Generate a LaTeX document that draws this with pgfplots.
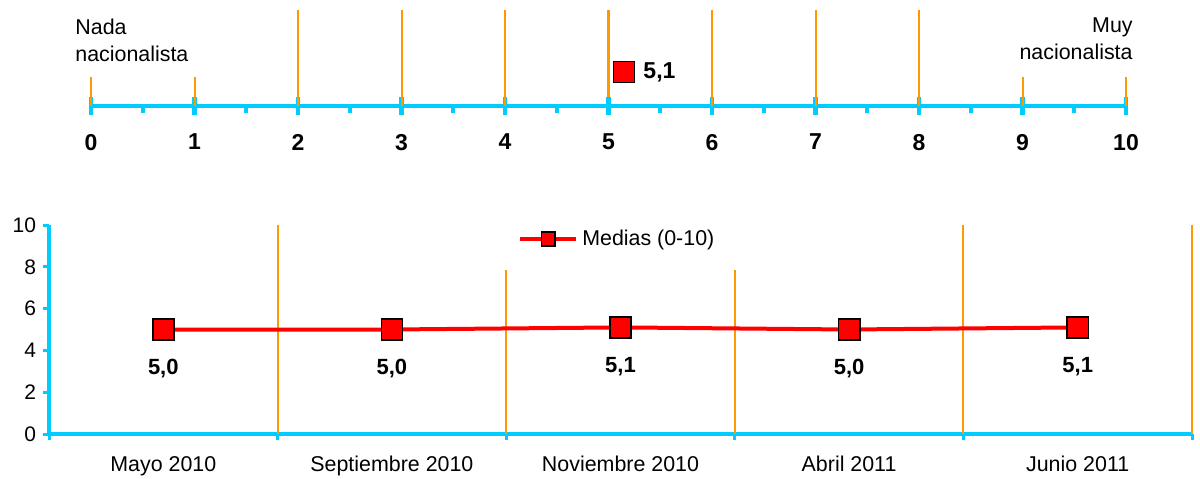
\documentclass[border=0pt]{standalone}
\usepackage{pgfplots}
\pgfplotsset{compat=1.18}
\usepackage{fontspec}
\setmainfont{Liberation Sans}
\definecolor{axcyan}{RGB}{0,204,255}
\definecolor{vorange}{RGB}{255,153,0}
\begin{document}
\begin{tikzpicture}
\path[use as bounding box] (0,0) rectangle (600pt,239pt);
% escala superior 0-10
\begin{axis}[
  at={(45.5pt,186pt)}, anchor=south west,
  scale only axis, width=517.5pt, height=48pt,
  xmin=0, xmax=10, ymin=0, ymax=1,
  axis x line=bottom, axis y line=none,
  axis line style={axcyan, line width=2pt, -},
  xtick={0,...,10},
  xtick align=center,
  major tick length=9pt,
  xtick style={axcyan, line width=2.2pt},
  extra x ticks={0.5,1.5,...,9.5},
  extra x tick labels={},
  extra x tick style={tick align=outside, major tick length=3.5pt, tick style={line width=1.6pt}},
  xticklabel style={font=\fontsize{11.5}{13}\selectfont\bfseries, yshift=-6pt},
  /pgf/number format/assume math mode=true,
  clip=false,
]
\addplot[vorange, line width=1pt, forget plot] coordinates {(0,0) (0,0.3)};
\addplot[vorange, line width=1pt, forget plot] coordinates {(1,0) (1,0.3)};
\addplot[vorange, line width=1pt, forget plot] coordinates {(2,0) (2,1)};
\addplot[vorange, line width=1pt, forget plot] coordinates {(3,0) (3,1)};
\addplot[vorange, line width=1pt, forget plot] coordinates {(4,0) (4,1)};
\addplot[vorange, line width=1.6pt, forget plot] coordinates {(5,0.09) (5,1)};
\addplot[vorange, line width=1pt, forget plot] coordinates {(6,0) (6,1)};
\addplot[vorange, line width=1pt, forget plot] coordinates {(7,0) (7,1)};
\addplot[vorange, line width=1pt, forget plot] coordinates {(8,0) (8,1)};
\addplot[vorange, line width=1pt, forget plot] coordinates {(9,0) (9,0.3)};
\addplot[vorange, line width=1pt, forget plot] coordinates {(10,0) (10,0.3)};
% media
\addplot[only marks, mark=square*, mark size=5.3pt,
  mark options={fill=red, draw=black, line width=0.8pt},
  point meta=explicit symbolic,
  nodes near coords,
  every node near coord/.append style={anchor=west, xshift=6pt,
    font=\fontsize{11.5}{13}\selectfont\bfseries, text=black}]
  coordinates {(5.15,0.354) [5,1]};
\end{axis}
\node[anchor=north west, align=left, inner sep=0pt,
  font=\fontsize{10.7}{13.5}\selectfont] at (37.5pt,229.5pt) {Nada\\nacionalista};
\node[anchor=north east, align=right, inner sep=0pt,
  font=\fontsize{10.7}{13.5}\selectfont] at (566.5pt,230.5pt) {Muy\\nacionalista};
% evolucion
\begin{axis}[
  at={(24.5pt,22pt)}, anchor=south west,
  scale only axis, width=571.5pt, height=104.5pt,
  xmin=0, xmax=5, ymin=0, ymax=10,
  axis x line=bottom, axis y line=left,
  axis line style={axcyan, line width=2pt, -},
  tick align=outside, major tick length=3pt,
  tick style={axcyan, line width=1.5pt},
  ytick={0,2,...,10},
  yticklabel style={font=\fontsize{10.5}{12}\selectfont},
  xtick={0,...,5}, xticklabels={},
  extra x ticks={0.5,1.5,2.5,3.5,4.5},
  extra x tick labels={Mayo 2010, Septiembre 2010, Noviembre 2010, Abril 2011, Junio 2011},
  extra x tick style={major tick length=0pt,
    tick label style={font=\fontsize{10.7}{12}\selectfont, yshift=-7.5pt}},
  /pgf/number format/assume math mode=true,
  legend style={at={(axis description cs:0.405,0.933)}, anchor=west,
    draw=none, fill=none, font=\fontsize{10.7}{12}\selectfont},
  legend image code/.code={\draw[mark repeat=2, mark phase=2, #1, mark size=3.4pt]
    plot coordinates {(0pt,0pt) (14pt,0pt) (28pt,0pt)};},
  clip=false,
]
\addplot[vorange, line width=1pt, forget plot] coordinates {(1,0) (1,10)};
\addplot[vorange, line width=1pt, forget plot] coordinates {(2,0) (2,7.85)};
\addplot[vorange, line width=1pt, forget plot] coordinates {(3,0) (3,7.85)};
\addplot[vorange, line width=1pt, forget plot] coordinates {(4,0) (4,10)};
\addplot[vorange, line width=1pt, forget plot] coordinates {(5,0) (5,10)};
\addplot[red, line width=2pt, mark=square*, mark size=5.3pt,
  mark options={fill=red, draw=black, line width=0.8pt},
  nodes near coords={\pgfmathprintnumber[use comma,fixed,fixed zerofill,precision=1]{\pgfplotspointmeta}},
  every node near coord/.append style={anchor=north, yshift=-11pt,
    font=\fontsize{11}{12}\selectfont\bfseries, text=black}]
  coordinates {(0.5,5.0) (1.5,5.0) (2.5,5.1) (3.5,5.0) (4.5,5.1)};
\addlegendentry{Medias (0-10)}
\end{axis}
\end{tikzpicture}
\end{document}
